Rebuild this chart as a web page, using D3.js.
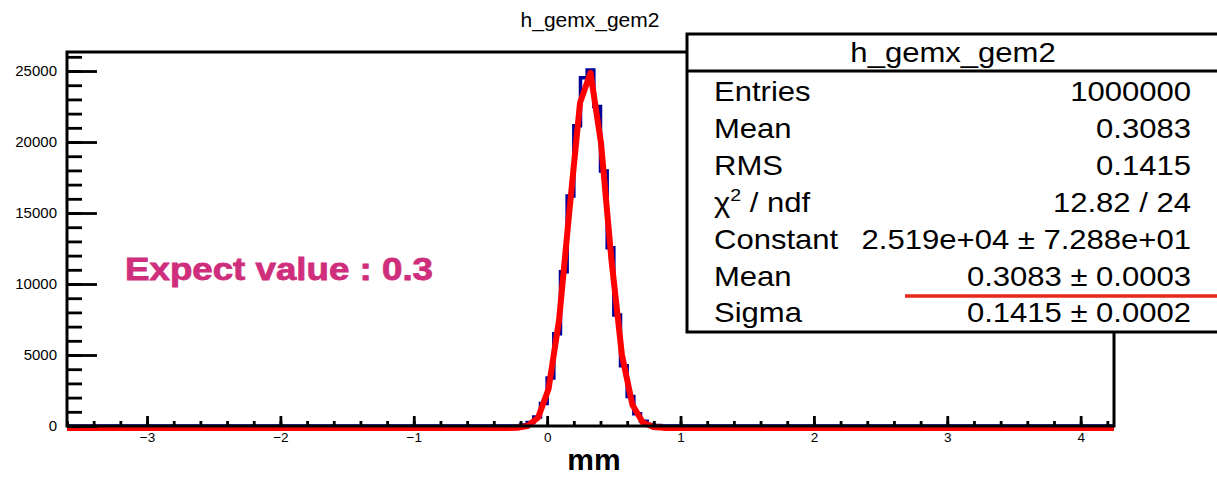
<!DOCTYPE html>
<html>
<head>
<meta charset="utf-8">
<script src="https://cdn.jsdelivr.net/npm/d3@7"></script>
<style>
  html, body { margin: 0; padding: 0; background: #fff; }
  svg { display: block; font-family: "Liberation Sans", Arial, Helvetica, sans-serif; }
</style>
</head>
<body>
<div id="chart"></div>
<script>
// ---- data ----
const histTitle = 'h_gemx_gem2';
const histRange = [-3.6, 4.25];        // x axis range (mm)
const binWidth  = 0.05;
// non-empty bins (low edge, content); every other bin is 0
const binLow    = [-0.20, -0.15, -0.10, -0.05, 0.00, 0.05, 0.10, 0.15, 0.20, 0.25,
                    0.30,  0.35,  0.40,  0.45, 0.50, 0.55, 0.60, 0.65, 0.70, 0.75, 0.80];
const binCounts = [70, 240, 630, 1590, 3380, 6490, 10860, 16190, 21150, 24530,
                   25080, 22500, 17960, 12560, 7820, 4250, 2070, 870, 340, 105, 30];

// gaussian fit parameters (from the stats box)
const fitConstant = 25190;
const fitMean     = 0.3083;
const fitSigma    = 0.1415;

const yMax        = 26340;
const yMajorTicks = [0, 5000, 10000, 15000, 20000, 25000];
const yMinorTicks = d3.range(0, 27000, 1000);
const xMajorTicks = [-3, -2, -1, 0, 1, 2, 3, 4];
const xMinorTicks = d3.range(-3.6, 4.21, 0.2);

const statsLabels = ['Entries', 'Mean', 'RMS', 'chi2', 'Constant', 'Mean', 'Sigma'];
const statsValues = ['1000000', '0.3083', '0.1415', '12.82 / 24',
                     '2.519e+04 \u00b1 7.288e+01', '0.3083 \u00b1 0.0003', '0.1415 \u00b1 0.0002'];
const xAxisTitle  = 'mm';
const noteText    = 'Expect value : 0.3';

// ---- layout ----
const W = 1217, H = 480;
const frame = { left: 67, right: 1114, top: 52, bottom: 426 };

const svg = d3.select('#chart').append('svg').attr('width', W).attr('height', H);
svg.append('rect').attr('width', W).attr('height', H).attr('fill', '#fff');

const x = d3.scaleLinear().domain(histRange).range([frame.left, frame.right]);
const y = d3.scaleLinear().domain([0, yMax]).range([frame.bottom, frame.top]);

// histogram outline (step line)
const stepPts = [[histRange[0], 0], [binLow[0], 0]];
binLow.forEach((lo, i) => {
  stepPts.push([lo, binCounts[i]]);
  stepPts.push([lo + binWidth, binCounts[i]]);
});
stepPts.push([binLow[binLow.length - 1] + binWidth, 0]);
stepPts.push([histRange[1], 0]);

const line = d3.line().x(d => x(d[0])).y(d => y(d[1]));

svg.append('path')
  .attr('d', line(stepPts))
  .attr('fill', 'none')
  .attr('stroke', '#000099')
  .attr('stroke-width', 3.5);

// fit curve, 100 segments like ROOT's TF1 default
const fitPts = d3.range(0, 101).map(i => {
  const xv = histRange[0] + i * (histRange[1] - histRange[0]) / 100;
  return [xv, fitConstant * Math.exp(-0.5 * Math.pow((xv - fitMean) / fitSigma, 2))];
});
svg.append('path')
  .attr('d', line(fitPts))
  .attr('fill', 'none')
  .attr('stroke', '#ff0000')
  .attr('stroke-width', 6)
  .attr('stroke-linejoin', 'round')
  .attr('transform', 'translate(0,2)');

// y axis: ticks point inward, labels outside
const yMinor = svg.append('g').attr('transform', `translate(${frame.left},0)`)
  .call(d3.axisLeft(y).tickValues(yMinorTicks).tickSizeInner(-15).tickSizeOuter(0).tickFormat(''));
const yMajor = svg.append('g').attr('transform', `translate(${frame.left},0)`)
  .call(d3.axisLeft(y).tickValues(yMajorTicks).tickSizeInner(-30).tickSizeOuter(0).tickPadding(10).tickFormat(d3.format('d')));

// x axis: ticks point up
const xMinor = svg.append('g').attr('transform', `translate(0,${frame.bottom})`)
  .call(d3.axisBottom(x).tickValues(xMinorTicks).tickSizeInner(-5).tickSizeOuter(0).tickFormat(''));
const xMajor = svg.append('g').attr('transform', `translate(0,${frame.bottom})`)
  .call(d3.axisBottom(x).tickValues(xMajorTicks).tickSizeInner(-10).tickSizeOuter(0).tickPadding(6)
    .tickFormat(d => d < 0 ? '\u2212' + Math.abs(d) : String(d)));

[yMinor, yMajor, xMinor, xMajor].forEach(g => {
  g.select('.domain').remove();
  g.selectAll('line').attr('stroke', '#000').attr('stroke-width', 2.8);
  g.selectAll('text').attr('fill', '#000').attr('font-family', '"Liberation Sans", Arial, sans-serif');
});
yMajor.selectAll('text').attr('font-size', 15);
xMajor.selectAll('text').attr('font-size', 13.5);

// frame
svg.append('rect')
  .attr('x', frame.left).attr('y', frame.top)
  .attr('width', frame.right - frame.left).attr('height', frame.bottom - frame.top)
  .attr('fill', 'none').attr('stroke', '#000').attr('stroke-width', 3);

// pad title
svg.append('text')
  .attr('x', 590).attr('y', 27)
  .attr('text-anchor', 'middle')
  .attr('font-size', 21)
  .attr('fill', '#000')
  .text(histTitle);

// x axis title
svg.append('text')
  .attr('x', 594).attr('y', 470)
  .attr('text-anchor', 'middle')
  .attr('font-size', 30)
  .attr('font-weight', 'bold')
  .attr('fill', '#000')
  .text(xAxisTitle);

// stats box
const box = { left: 687, top: 34, bottom: 332, sep: 71 };
const stats = svg.append('g');
stats.append('rect')
  .attr('x', box.left).attr('y', box.top)
  .attr('width', W + 20 - box.left).attr('height', box.bottom - box.top)
  .attr('fill', '#fff').attr('stroke', '#000').attr('stroke-width', 3);
stats.append('line')
  .attr('x1', box.left).attr('x2', W + 5)
  .attr('y1', box.sep).attr('y2', box.sep)
  .attr('stroke', '#000').attr('stroke-width', 3);

const sx = 1.15; // stats text is drawn slightly wide in the reference
stats.append('text')
  .attr('transform', `translate(953,62) scale(${sx},1)`)
  .attr('text-anchor', 'middle')
  .attr('font-size', 27)
  .text(histTitle);

statsLabels.forEach((lab, i) => {
  const by = 101 + i * 36.9;
  const t = stats.append('text')
    .attr('transform', `translate(714,${by}) scale(${sx},1)`)
    .attr('font-size', 27);
  if (lab === 'chi2') {
    t.append('tspan').text('\u03c7');
    t.append('tspan').attr('font-size', 17).attr('dy', -11).text('2');
    t.append('tspan').attr('dy', 11).text(' / ndf');
  } else {
    t.text(lab);
  }
  stats.append('text')
    .attr('transform', `translate(1191,${by}) scale(${sx},1)`)
    .attr('text-anchor', 'end')
    .attr('font-size', 27)
    .text(statsValues[i]);
});

// red underline under the fitted mean
svg.append('line')
  .attr('x1', 905).attr('x2', W)
  .attr('y1', 296).attr('y2', 296)
  .attr('stroke', '#e8291c').attr('stroke-width', 3.5);

// annotation
svg.append('text')
  .attr('x', 125).attr('y', 280)
  .attr('font-size', 31)
  .attr('font-weight', 'bold')
  .attr('fill', '#cf2e7d')
  .attr('stroke', '#cf2e7d')
  .attr('stroke-width', 0.8)
  .attr('textLength', 308)
  .attr('lengthAdjust', 'spacingAndGlyphs')
  .text(noteText);
</script>
</body>
</html>
